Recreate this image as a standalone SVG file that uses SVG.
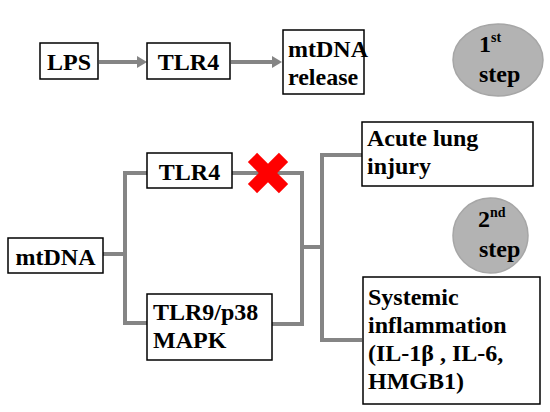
<svg xmlns="http://www.w3.org/2000/svg" width="550" height="412" viewBox="0 0 550 412">
<defs>
<style>
.box{fill:#fff;stroke:#000;stroke-width:1.5}
.t{font-family:'Liberation Serif','Times New Roman',serif;font-weight:bold;font-size:24px;fill:#000}
.sup{font-size:14px}
.con{fill:none;stroke:#858585;stroke-width:4;stroke-linejoin:miter}
.ah{fill:#858585}
.step{fill:#b3b3b3;stroke:#a6a6a6;stroke-width:1.5}
</style>
</defs>
<rect width="550" height="412" fill="#fff"/>
<g id="connectors">
<line class="con" x1="99" y1="62" x2="138" y2="62" stroke-width="5"/>
<polygon class="ah" points="137,56 147,62 137,68"/>
<line class="con" x1="231" y1="62" x2="273" y2="62" stroke-width="5"/>
<polygon class="ah" points="272,56 282,62 272,68"/>
<path class="con" d="M103,254 H125"/>
<path class="con" d="M147,173 H125 V323 H147"/>
<path class="con" d="M232,173 H302 V324 H272"/>
<path class="con" d="M302,247 H322"/>
<path class="con" d="M362,155 H322 V340 H362"/>
</g>
<g id="lps"><rect class="box" x="40" y="43" width="58" height="36"/><text class="t" x="69" y="70" text-anchor="middle">LPS</text></g>
<g id="tlr4-top"><rect class="box" x="147" y="43" width="83" height="36"/><text class="t" x="188.5" y="70" text-anchor="middle">TLR4</text></g>
<g id="mtdna-release"><rect class="box" x="283" y="30" width="81" height="64"/><text class="t" x="288" y="57">mtDNA</text><text class="t" x="288" y="85">release</text></g>
<g id="step1"><ellipse class="step" cx="498" cy="60" rx="45" ry="36"/><text class="t" x="479" y="52">1<tspan class="sup" dy="-10">st</tspan></text><text class="t" x="479" y="82">step</text></g>
<g id="mtdna"><rect class="box" x="8" y="238" width="95" height="35"/><text class="t" x="55.5" y="265" text-anchor="middle">mtDNA</text></g>
<g id="tlr4"><rect class="box" x="147" y="153" width="85" height="35"/><text class="t" x="189.5" y="180" text-anchor="middle">TLR4</text></g>
<g id="block"><g transform="translate(268,173) rotate(45)" fill="#ff0000"><rect x="-22" y="-6.5" width="44" height="13"/><rect x="-6.5" y="-22" width="13" height="44"/></g></g>
<g id="tlr9"><rect class="box" x="147" y="294" width="125" height="66"/><text class="t" x="153" y="320">TLR9/p38</text><text class="t" x="153" y="348">MAPK</text></g>
<g id="acute"><rect class="box" x="362" y="122" width="171" height="64"/><text class="t" x="367" y="146">Acute lung</text><text class="t" x="367" y="174">injury</text></g>
<g id="step2"><ellipse class="step" cx="490.5" cy="235.5" rx="37.5" ry="37.5"/><text class="t" x="478" y="227">2<tspan class="sup" dy="-10">nd</tspan></text><text class="t" x="479" y="257">step</text></g>
<g id="systemic"><rect class="box" x="363" y="277" width="177" height="127"/><text class="t" x="368" y="305">Systemic</text><text class="t" x="368" y="333">inflammation</text><text class="t" x="368" y="361">(IL-1β , IL-6,</text><text class="t" x="368" y="389">HMGB1)</text></g>
</svg>
